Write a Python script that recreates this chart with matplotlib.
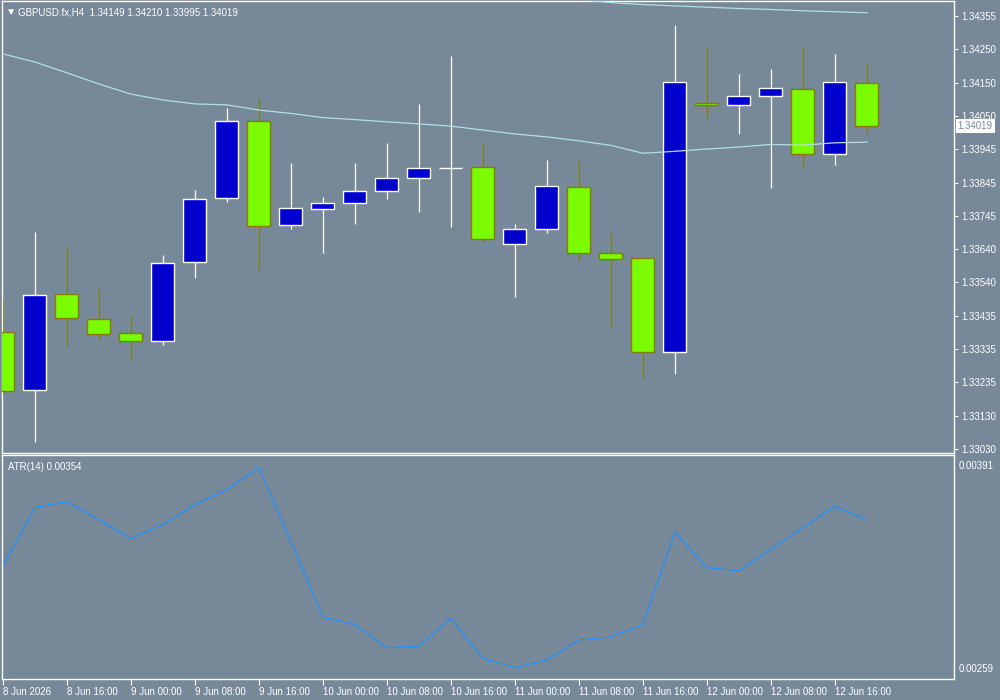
import numpy as np
import matplotlib
matplotlib.use('Agg')
import matplotlib.pyplot as plt
import matplotlib.transforms as mtransforms

# GBPUSD.fx H4 candles
opens = [1.33389, 1.33210, 1.33503, 1.33427, 1.33384, 1.33360, 1.33601, 1.33797,
         1.34033, 1.33715, 1.33763, 1.33782, 1.33819, 1.33858, 1.33889, 1.33892,
         1.33656, 1.33702, 1.33831, 1.33629, 1.33614, 1.33326, 1.34088, 1.34082,
         1.34109, 1.34131, 1.33932, 1.34149]
highs = [1.33486, 1.33693, 1.33647, 1.33520, 1.33437, 1.33624, 1.33823, 1.34073,
         1.34104, 1.33905, 1.33801, 1.33905, 1.33966, 1.34086, 1.34233, 1.33962,
         1.33718, 1.33914, 1.33911, 1.33691, 1.33617, 1.34327, 1.34260, 1.34178,
         1.34193, 1.34257, 1.34239, 1.34210]
lows = [1.33195, 1.33052, 1.33346, 1.33364, 1.33303, 1.33348, 1.33554, 1.33787,
        1.33579, 1.33704, 1.33631, 1.33719, 1.33796, 1.33756, 1.33710, 1.33664,
        1.33496, 1.33692, 1.33606, 1.33402, 1.33243, 1.33259, 1.34041, 1.33995,
        1.33830, 1.33891, 1.33900, 1.33995]
closes = [1.33208, 1.33500, 1.33430, 1.33381, 1.33360, 1.33598, 1.33794, 1.34033,
          1.33711, 1.33767, 1.33782, 1.33819, 1.33858, 1.33889, 1.33889, 1.33672,
          1.33702, 1.33834, 1.33629, 1.33610, 1.33326, 1.34152, 1.34082, 1.34109,
          1.34134, 1.33932, 1.34152, 1.34019]

# moving averages
ma_slow = [1.34239, 1.34214, 1.34181, 1.34147, 1.34116, 1.34098, 1.34086, 1.34083,
           1.34067, 1.34057, 1.34044, 1.34038, 1.34031, 1.34025, 1.34018, 1.34006,
           1.33994, 1.33985, 1.33973, 1.33959, 1.33935, 1.33941, 1.33948, 1.33954,
           1.33962, 1.33960, 1.33967, 1.33969]
ma_top_start = 18
ma_top = [1.34405, 1.34396, 1.34390, 1.34386, 1.34382, 1.34378, 1.34375, 1.34371,
          1.34368, 1.34365]

# ATR(14)
atr = [0.00325, 0.00363, 0.00367, 0.00355, 0.00343, 0.00352, 0.00365, 0.00375,
       0.00389, 0.00341, 0.00292, 0.00287, 0.00272, 0.00273, 0.00291, 0.00265,
       0.00259, 0.00264, 0.00277, 0.00279, 0.00287, 0.00347, 0.00324, 0.00322,
       0.00336, 0.00350, 0.00364, 0.00355]
atr_title = 'ATR(14) 0.00354'

price_labels = ['1.34355', '1.34250', '1.34150', '1.34050', '1.33945', '1.33845',
                '1.33745', '1.33640', '1.33540', '1.33435', '1.33335', '1.33235',
                '1.33130', '1.33030']
atr_labels = ['0.00391', '0.00259']
time_labels = ['8 Jun 2026', '8 Jun 16:00', '9 Jun 00:00', '9 Jun 08:00',
               '9 Jun 16:00', '10 Jun 00:00', '10 Jun 08:00', '10 Jun 16:00',
               '11 Jun 00:00', '11 Jun 08:00', '11 Jun 16:00', '12 Jun 00:00',
               '12 Jun 08:00', '12 Jun 16:00']

BG = '#778899'
BULL = '#0000cd'
BEAR = '#7cfc00'
BEAR_EDGE = '#808000'
FONT = ['Liberation Sans', 'DejaVu Sans']

plt.rcParams['font.family'] = FONT

fig = plt.figure(figsize=(10, 7), dpi=100, facecolor=BG)
ax = fig.add_axes([0.002, 1 - 453 / 700, 0.952, 452 / 700], facecolor=BG)
ax2 = fig.add_axes([0.002, 1 - 678.7 / 700, 0.952, 223.7 / 700], facecolor=BG)

o = np.array(opens)
h = np.array(highs)
l = np.array(lows)
c = np.array(closes)
x = np.arange(len(o))
up = c >= o

# wicks
ax.vlines(x[up], l[up], h[up], color='white', lw=0.9, zorder=2)
ax.vlines(x[~up], l[~up], h[~up], color=BEAR_EDGE, lw=0.9, zorder=2)
# bodies
ax.bar(x[up], (c - o)[up], bottom=o[up], width=0.72, color=BULL,
       edgecolor='white', linewidth=1.0, zorder=3)
ax.bar(x[~up], (c - o)[~up], bottom=o[~up], width=0.72, color=BEAR,
       edgecolor=BEAR_EDGE, linewidth=1.0, zorder=3)

ax.plot(x, ma_slow, color='#b0e0e6', lw=0.9, zorder=4)
ax.plot(np.arange(ma_top_start, ma_top_start + len(ma_top)), ma_top,
        color='#b0e0e6', lw=0.9, zorder=4)

ax.set_xlim(-0.03, 29.72)
ax.set_ylim(1.330178, 1.344009)
ax.set_xticks([])
ax.yaxis.tick_right()
ax.set_yticks(np.linspace(1.34355, 1.33030, len(price_labels)))
ax.set_yticklabels(price_labels)
ax.tick_params(axis='y', colors='white', length=3, width=0.8, pad=2,
               labelsize=7)

# current price box
trans = mtransforms.blended_transform_factory(ax.transAxes, ax.transData)
ax.text(1.004, closes[-1], f'{closes[-1]:.5f}', transform=trans, fontsize=7,
        color=BG, va='center', ha='left', clip_on=False,
        bbox=dict(boxstyle='square,pad=0.2', fc='white', ec='none'))

ax.text(0.004, 0.986, '\u25bc', transform=ax.transAxes, fontsize=7.5,
        color='white', va='top', ha='left')
ax.text(0.017, 0.985, 'GBPUSD.fx,H4  ' + ' '.join(
    f'{v:.5f}' for v in (opens[-1], highs[-1], lows[-1], closes[-1])),
    transform=ax.transAxes, fontsize=7, color='white', va='top', ha='left')

# ATR panel
ax2.plot(x, atr, color='#1e90ff', lw=0.9)
ax2.set_xlim(-0.03, 29.72)
ax2.set_ylim(0.002518, 0.003973)
ax2.yaxis.tick_right()
ax2.set_yticks([float(s) for s in atr_labels])
ax2.set_yticklabels(atr_labels)
ax2.tick_params(axis='y', colors='white', length=0, pad=3, labelsize=7)
ax2.set_xticks(np.arange(0, 2 * len(time_labels), 2))
ax2.set_xticklabels(time_labels)
ax2.tick_params(axis='x', colors='white', length=4, width=0.8, pad=2,
                labelsize=7)
for lbl in ax2.get_xticklabels():
    lbl.set_horizontalalignment('left')
ax2.text(0.006, 0.97, atr_title, transform=ax2.transAxes, fontsize=7,
         color='white', va='top', ha='left')

for a in (ax, ax2):
    for s in a.spines.values():
        s.set_color('white')
        s.set_linewidth(1.0)

fig.savefig('out.png', dpi=100, facecolor=BG)
